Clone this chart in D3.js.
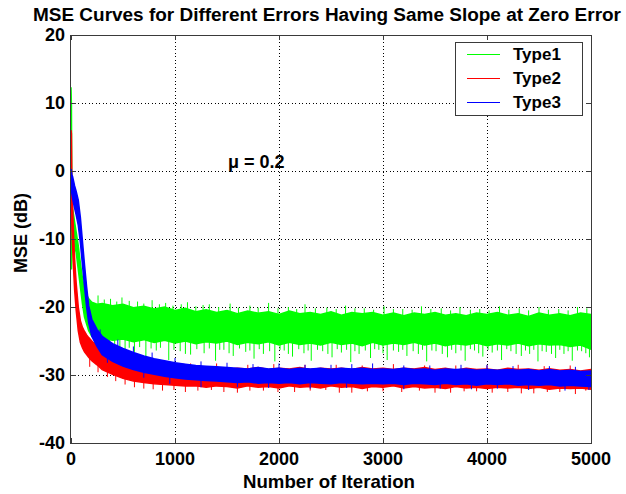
<!DOCTYPE html>
<html><head><meta charset="utf-8">
<script src="https://cdn.jsdelivr.net/npm/d3@7"></script>
<style>body{margin:0;background:#fff}svg{display:block}</style>
</head><body><svg id="c" width="626" height="494"></svg>
<script>
// ---- data ----
const titleText = "MSE Curves for Different Errors Having Same Slope at Zero Error";
const xLabel = "Number of Iteration";
const yLabel = "MSE (dB)";
const annotation = "\u03BC = 0.2";
const seriesNames = ["Type1", "Type2", "Type3"];
const xTicks = [0, 1000, 2000, 3000, 4000, 5000];
const yTicks = [-40, -30, -20, -10, 0, 10, 20];

const iterations = [0,4,8,15,25,35,50,70,90,110,130,150,170,200,250,
  300,400,500,600,700,800,900,1000,1100,1200,
  1300,1400,1500,1600,1700,1800,1900,2000,2100,2200,
  2300,2400,2500,2600,2700,2800,2900,3000,3100,3200,
  3300,3400,3500,3600,3700,3800,3900,4000,4100,4200,
  4300,4400,4500,4600,4700,4800,4900,5000];

// Type1 (green) envelope
const type1Upper = [12.3,9.8,-4.5,-5.5,-6.5,-7.5,-9,-11,-13.5,-15.8,-17.3,-18.2,-18.8,-19.3,-19.6,
  -19.5,-19.8,-19.6,-20.1,-19.9,-20.3,-20.0,-20.5,-20.2,-20.7,
  -20.4,-20.8,-20.5,-21.0,-20.6,-20.9,-20.7,-21.1,-20.6,-21.0,
  -20.8,-21.1,-20.7,-21.2,-20.8,-21.0,-20.8,-21.2,-20.9,-21.3,
  -20.9,-21.1,-20.8,-21.2,-21.0,-21.3,-20.9,-21.1,-20.8,-21.2,
  -21.0,-21.4,-20.9,-21.2,-21.0,-21.3,-20.9,-21.1];
const type1Lower = [5,-14.5,-12.5,-10,-10,-11,-12,-14.5,-17,-19.5,-21.5,-22.5,-23.5,-24.3,-24.8,
  -24.6,-24.9,-24.7,-25.1,-24.8,-25.2,-24.9,-25.3,-25.0,-25.4,
  -25.1,-25.3,-25.0,-25.5,-25.2,-25.4,-25.1,-25.6,-25.2,-25.5,
  -25.3,-25.6,-25.2,-25.5,-25.3,-25.7,-25.2,-25.6,-25.3,-25.5,
  -25.2,-25.6,-25.3,-25.7,-25.4,-25.6,-25.3,-25.7,-25.4,-25.6,
  -25.3,-25.7,-25.4,-25.6,-25.5,-25.8,-25.6,-26.2];

// Type2 (red) envelope
const type2Upper = [6,5.5,-1,-5,-9.5,-13,-16.5,-20,-22,-23,-23.6,-24.1,-24.5,-25,-25.8,
  -26.4,-27.1,-27.7,-28.0,-28.3,-28.5,-28.7,-28.8,-28.9,-29.0,
  -29.1,-28.9,-29.2,-29.0,-29.1,-28.9,-29.2,-29.0,-29.1,-28.9,
  -29.2,-29.0,-29.1,-29.0,-29.2,-28.9,-29.1,-29.0,-29.2,-29.0,
  -29.1,-28.9,-29.2,-29.0,-29.3,-29.0,-29.2,-29.1,-29.3,-29.0,
  -29.2,-29.1,-29.3,-29.1,-29.3,-29.2,-29.4,-29.2];
const type2Lower = [-1,-5,-8,-11,-14.5,-17.5,-20.5,-23.5,-25.2,-26,-26.6,-27,-27.4,-27.9,-28.5,
  -29.2,-29.9,-30.5,-30.9,-31.1,-31.3,-31.4,-31.5,-31.6,-31.6,
  -31.8,-31.6,-31.7,-31.9,-31.6,-31.8,-31.7,-31.9,-31.6,-31.8,
  -31.7,-31.9,-31.6,-31.8,-31.7,-32.0,-31.7,-31.8,-31.6,-31.9,
  -31.7,-31.9,-31.8,-32.0,-31.7,-31.9,-31.8,-32.0,-31.8,-31.9,
  -31.8,-32.0,-31.8,-32.1,-31.9,-32.0,-31.9,-32.1];

// Type3 (blue) envelope
const type3Upper = [0.3,0,-0.5,-0.8,-1.5,-2.2,-3,-4.3,-6.8,-10.3,-13.8,-17,-19.8,-21.8,-23.3,
  -24.3,-25.4,-26.1,-26.7,-27.2,-27.6,-27.9,-28.2,-28.4,-28.6,
  -28.7,-28.8,-28.9,-29.0,-29.1,-28.9,-29.1,-29.0,-29.2,-29.0,
  -29.1,-29.0,-29.2,-29.0,-29.1,-29.0,-29.2,-29.1,-29.2,-29.0,
  -29.2,-29.1,-29.3,-29.1,-29.2,-29.1,-29.3,-29.2,-29.3,-29.2,
  -29.3,-29.2,-29.4,-29.2,-29.4,-29.3,-29.5,-29.4];
const type3Lower = [-2,-2.8,-3.3,-4,-4.8,-5.5,-6.5,-8,-10.5,-13.8,-17,-20,-22.3,-24.3,-25.8,
  -27.0,-28.0,-28.7,-29.2,-29.6,-29.9,-30.2,-30.4,-30.6,-30.7,
  -30.8,-30.9,-31.0,-31.1,-31.0,-31.2,-31.1,-31.2,-31.1,-31.3,
  -31.1,-31.2,-31.3,-31.1,-31.2,-31.3,-31.2,-31.3,-31.2,-31.4,
  -31.2,-31.3,-31.4,-31.2,-31.4,-31.3,-31.5,-31.3,-31.4,-31.3,
  -31.5,-31.4,-31.5,-31.4,-31.6,-31.5,-31.6,-31.7];

// isolated noise spikes [iteration, dB]
const type1Spikes = [[230,-26.5],[280,-25.8],[330,-27.4],[370,-25.9],[420,-26.2],[470,-26.9],[520,-27.1],[560,-26.0],[610,-26.6],[660,-25.9],[720,-27.3],[770,-26.1],[820,-26.4],[860,-26.0],[940,-27.8],[990,-26.3],[1050,-26.5],[1100,-26.9],[1150,-27.0],[1210,-26.2],[1280,-26.8],[1330,-26.1],[1390,-27.9],[1430,-26.3],[1470,-26.3],[1520,-26.8],[1560,-27.2],[1620,-26.1],[1680,-26.6],[1720,-26.4],[1760,-27.6],[1810,-26.2],[1850,-26.9],[1910,-26.5],[1960,-28.0],[2010,-26.3],[2050,-26.4],[2090,-26.9],[2130,-27.3],[2190,-26.2],[2240,-26.8],[2280,-26.4],[2310,-27.9],[2370,-26.3],[2420,-26.5],[2470,-26.9],[2510,-27.4],[2560,-26.2],[2600,-26.7],[2650,-26.3],[2690,-28.1],[2730,-26.5],[2770,-26.9],[2830,-26.4],[2880,-27.5],[2920,-26.2],[2960,-26.3],[3000,-26.8],[3040,-27.8],[3100,-26.4],[3150,-26.6],[3190,-26.3],[3230,-27.2],[3290,-26.5],[3340,-26.9],[3380,-26.3],[3420,-28.0],[3470,-26.4],[3510,-26.5],[3570,-26.9],[3620,-27.4],[3660,-26.3],[3700,-26.8],[3750,-26.4],[3790,-27.9],[3840,-26.2],[3880,-26.4],[3920,-26.8],[3960,-27.3],[4010,-26.3],[4050,-26.7],[4100,-26.4],[4140,-27.8],[4190,-26.2],[4230,-26.5],[4280,-26.9],[4330,-27.2],[4370,-26.4],[4410,-26.9],[4450,-26.3],[4490,-28.0],[4530,-26.5],[4570,-26.6],[4620,-26.9],[4660,-27.5],[4700,-26.3],[4740,-26.9],[4780,-26.5],[4820,-27.9],[4870,-26.4],[4910,-26.5],[4950,-26.8],[4985,-27.4],
  [260,-18.3],[320,-18.9],[380,-18.8],[440,-19.2],[490,-18.6],[560,-19.1],[640,-19.2],[700,-19.5],[780,-19.0],[850,-19.6],[910,-19.4],[980,-19.8],[1060,-19.6],[1120,-19.3],[1200,-19.9],[1270,-19.7],[1330,-19.6],[1420,-20.0],[1530,-19.5],[1610,-20.1],[1720,-19.8],[1800,-20.1],[1900,-19.4],[1990,-20.2],[2090,-20.0],[2170,-20.3],[2250,-19.6],[2350,-20.2],[2460,-20.1],[2550,-20.3],[2640,-19.8],[2730,-20.2],[2820,-20.2],[2910,-20.4],[3010,-19.9],[3100,-20.3],[3190,-20.3],[3280,-20.4],[3370,-19.9],[3460,-20.3],[3560,-20.2],[3650,-20.5],[3740,-20.0],[3840,-20.4],[3930,-20.3],[4020,-20.5],[4120,-19.9],[4210,-20.4],[4310,-20.2],[4400,-20.5],[4500,-20.0],[4590,-20.4],[4690,-20.3],[4780,-20.5],[4870,-20.0],[4960,-20.2]];
const type2Spikes = [[180,-28.8],[260,-29.6],[350,-30.3],[430,-30.9],[520,-31.4],[610,-31.8],[700,-32.0],[790,-32.1],[880,-32.3],[990,-32.2],[1100,-32.5],[1220,-32.3],[1350,-32.2],[1470,-32.5],[1600,-32.6],[1720,-32.3],[1850,-32.3],[1990,-32.5],[2150,-32.5],[2300,-32.3],[2450,-32.2],[2580,-32.6],[2700,-32.6],[2850,-32.4],[3000,-32.4],[3180,-32.5],[3350,-32.3],[3500,-32.6],[3650,-32.6],[3780,-32.4],[3900,-32.4],[4050,-32.6],[4200,-32.5],[4330,-32.7],[4450,-32.7],[4580,-32.5],[4700,-32.5],[4850,-32.8],[4950,-32.3],
  [420,-27.8],[800,-27.9],[1150,-28.3],[1400,-28.3],[1700,-28.5],[1950,-28.4],[2250,-28.5],[2550,-28.5],[2800,-28.6],[3100,-28.4],[3400,-28.6],[3700,-28.6],[4000,-28.6],[4300,-28.5],[4550,-28.7],[4800,-28.6]];
const type3Spikes = [[280,-23.3],[450,-24.8],[600,-25.8],[780,-26.7],[1000,-27.5],[1250,-28.0],[1500,-28.2],[1750,-28.4],[2000,-28.3],[2250,-28.5],[2500,-28.5],[2700,-28.4],[2900,-28.3],[3200,-28.6],[3450,-28.6],[3750,-28.5],[4000,-28.5],[4250,-28.7],[4600,-28.7],[4850,-28.8],
  [350,-28.2],[700,-30.4],[950,-31.3],[1250,-31.8],[1600,-31.8],[1900,-31.9],[2300,-32.0],[2650,-31.9],[3200,-32.1],[3550,-32.0],[3850,-32.1],[4100,-32.0],[4400,-32.2],[4750,-32.3],[4980,-32.2]];

const seriesColors = ["#00ff00", "#ff0000", "#0000ff"];

// ---- drawing ----
const svg = d3.select("#c");
const L = 71, R = 591, T = 35, B = 443;
const x = d3.scaleLinear().domain([0, 5000]).range([L, R]);
const y = d3.scaleLinear().domain([-40, 20]).range([B, T]);
const FONT = "'Liberation Sans', Arial, Helvetica, sans-serif";

svg.append("rect").attr("width", 626).attr("height", 494).attr("fill", "#fff");
svg.append("defs").append("clipPath").attr("id", "clip")
  .append("rect").attr("x", L).attr("y", T).attr("width", R - L).attr("height", B - T);

// grid
const grid = svg.append("g").attr("stroke", "#000").attr("stroke-width", 1)
  .attr("stroke-dasharray", "1,2.5").attr("shape-rendering", "crispEdges");
grid.selectAll(".gx").data(xTicks.filter(t => t > 0 && t < 5000)).join("line")
  .attr("x1", d => Math.round(x(d)) + 0.5).attr("x2", d => Math.round(x(d)) + 0.5)
  .attr("y1", T).attr("y2", B);
grid.selectAll(".gy").data(yTicks.filter(t => t > -40 && t < 20)).join("line")
  .attr("y1", d => Math.round(y(d)) + 0.5).attr("y2", d => Math.round(y(d)) + 0.5)
  .attr("x1", L).attr("x2", R);

// series
const plot = svg.append("g").attr("clip-path", "url(#clip)");
const series = [
  {up: type1Upper, lo: type1Lower, spikes: type1Spikes},
  {up: type2Upper, lo: type2Lower, spikes: type2Spikes},
  {up: type3Upper, lo: type3Lower, spikes: type3Spikes}
];
const area = d3.area().x(d => x(d.i)).y0(d => y(d.lo)).y1(d => y(d.hi));
series.forEach((s, k) => {
  const pts = iterations.map((it, j) => ({i: it, hi: s.up[j], lo: s.lo[j]}));
  const g = plot.append("g");
  g.append("path").datum(pts).attr("d", area)
    .attr("fill", seriesColors[k]).attr("stroke", seriesColors[k]).attr("stroke-width", 1.5);
  const mid = d3.scaleLinear().domain(iterations).range(pts.map(p => (p.hi + p.lo) / 2));
  g.selectAll("line").data(s.spikes).join("line")
    .attr("x1", d => x(d[0])).attr("x2", d => x(d[0]))
    .attr("y1", d => y(mid(d[0]))).attr("y2", d => y(d[1]))
    .attr("stroke", seriesColors[k]).attr("stroke-width", 1);
});

// axes box & ticks
const ax = svg.append("g").attr("stroke", "#3a3a3a").attr("stroke-width", 1).attr("shape-rendering", "crispEdges");
ax.append("rect").attr("x", L - 0.5).attr("y", T + 0.5).attr("width", R - L + 1).attr("height", B - T).attr("fill", "none");
const tl = 5;
xTicks.forEach(t => {
  const px = Math.round(x(t)) + 0.5;
  ax.append("line").attr("x1", px).attr("x2", px).attr("y1", B).attr("y2", B - tl);
  ax.append("line").attr("x1", px).attr("x2", px).attr("y1", T).attr("y2", T + tl);
});
yTicks.forEach(t => {
  const py = Math.round(y(t)) + 0.5;
  ax.append("line").attr("x1", L).attr("x2", L + tl).attr("y1", py).attr("y2", py);
  ax.append("line").attr("x1", R).attr("x2", R - tl).attr("y1", py).attr("y2", py);
});

// tick labels
const txt = svg.append("g").attr("font-family", FONT).attr("font-weight", "bold").attr("fill", "#000");
txt.selectAll(".xl").data(xTicks).join("text")
  .attr("x", d => x(d)).attr("y", 465).attr("text-anchor", "middle")
  .attr("font-size", 18).text(d => d);
txt.selectAll(".yl").data(yTicks).join("text")
  .attr("x", 65).attr("y", d => y(d) + 6.4).attr("text-anchor", "end")
  .attr("font-size", 18).text(d => d);

// title & labels
txt.append("text").attr("x", 327).attr("y", 21).attr("text-anchor", "middle")
  .attr("font-size", 18).attr("textLength", 588).attr("lengthAdjust", "spacingAndGlyphs").text(titleText);
txt.append("text").attr("x", 329).attr("y", 488).attr("text-anchor", "middle")
  .attr("font-size", 18.5).attr("textLength", 172).attr("lengthAdjust", "spacingAndGlyphs").text(xLabel);
txt.append("text").attr("transform", "translate(27,233) rotate(-90)").attr("text-anchor", "middle")
  .attr("font-size", 18).text(yLabel);
txt.append("text").attr("x", 228).attr("y", 168).attr("font-size", 18).text(annotation);

// legend
const lg = svg.append("g");
lg.append("rect").attr("x", 455.5).attr("y", 42.5).attr("width", 127).attr("height", 73)
  .attr("fill", "#fff").attr("stroke", "#3a3a3a").attr("shape-rendering", "crispEdges");
seriesNames.forEach((n, k) => {
  const ry = 54 + k * 24;
  lg.append("line").attr("x1", 467).attr("x2", 500).attr("y1", ry + 0.5).attr("y2", ry + 0.5)
    .attr("stroke", seriesColors[k]).attr("stroke-width", 1);
  lg.append("text").attr("x", 513).attr("y", ry + 6).attr("font-family", FONT)
    .attr("font-weight", "bold").attr("font-size", 17).text(n);
});
</script>
</body></html>
